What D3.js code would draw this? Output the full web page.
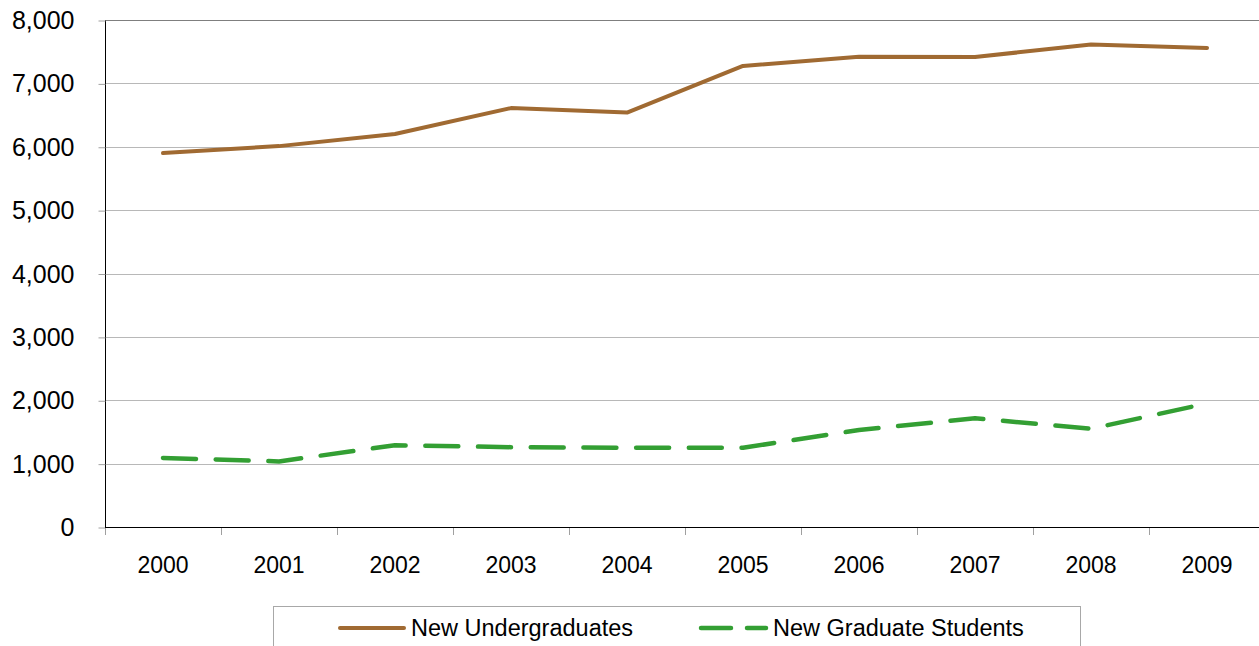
<!DOCTYPE html>
<html lang="en">
<head>
<meta charset="utf-8">
<title>New students 2000-2009</title>
<script src="https://cdn.jsdelivr.net/npm/d3@7"></script>
<style>
  body { margin: 0; background: #fff; font-family: "Liberation Sans", Arial, sans-serif; }
  svg { display: block; }
</style>
</head>
<body>
<script>
// data
var years = ["2000", "2001", "2002", "2003", "2004", "2005", "2006", "2007", "2008", "2009"];
var undergrads = [5900, 6010, 6200, 6610, 6540, 7275, 7420, 7415, 7615, 7560];
var grads = [1090, 1035, 1290, 1260, 1250, 1250, 1530, 1715, 1550, 1950];
var yTicks = [0, 1000, 2000, 3000, 4000, 5000, 6000, 7000, 8000];
var seriesNames = ["New Undergraduates", "New Graduate Students"];

var w = 1259, h = 646;
// plot edges (window.top is taken, so prefixed names)
var plotLeft = 105, plotRight = 1265, plotTop = 20, plotBottom = 527;

var svg = d3.select("body").append("svg")
  .attr("width", w)
  .attr("height", h);

var xScale = d3.scaleBand().domain(years).range([plotLeft, plotRight]);
var yScale = d3.scaleLinear().domain([0, 8000]).range([plotBottom, plotTop]);

// gridlines
svg.append("g").selectAll("line")
  .data(yTicks.filter(function(d) { return d > 0; }))
  .enter().append("line")
  .attr("x1", plotLeft).attr("x2", plotRight)
  .attr("y1", function(d) { return Math.round(yScale(d)) + 0.5; })
  .attr("y2", function(d) { return Math.round(yScale(d)) + 0.5; })
  .attr("stroke", function(d) { return d == 8000 ? "#7f7f7f" : "#b8b8b8"; })
  .attr("stroke-width", 1);

// y axis
var yAxis = d3.axisLeft(yScale)
  .tickValues(yTicks)
  .tickSize(7)
  .tickPadding(24)
  .tickFormat(d3.format(","));

var gy = svg.append("g")
  .attr("transform", "translate(" + (plotLeft + 0.5) + ",0.5)")
  .call(yAxis);
gy.select(".domain").attr("stroke", "#000").attr("d", "M0," + plotTop + "V" + plotBottom);
gy.selectAll(".tick line").attr("stroke", "#a0a0a0");
gy.selectAll("text")
  .attr("font-size", "25px")
  .attr("font-family", "Liberation Sans, Arial, sans-serif")
  .attr("fill", "#000");

// x axis
var xAxis = d3.axisBottom(xScale).tickSize(0).tickPadding(0);
var gx = svg.append("g")
  .attr("transform", "translate(0," + (plotBottom + 0.5) + ")")
  .call(xAxis);
gx.select(".domain").attr("stroke", "#000").attr("d", "M" + plotLeft + ",0H" + plotRight);
gx.selectAll("text")
  .attr("font-size", "23px")
  .attr("font-family", "Liberation Sans, Arial, sans-serif")
  .attr("fill", "#000")
  .attr("dy", null)
  .attr("y", 45);

// category separator ticks
svg.append("g").selectAll("line")
  .data(years)
  .enter().append("line")
  .attr("x1", function(d) { return Math.round(xScale(d)) + 0.5; })
  .attr("x2", function(d) { return Math.round(xScale(d)) + 0.5; })
  .attr("y1", plotBottom + 1)
  .attr("y2", plotBottom + 8)
  .attr("stroke", "#a0a0a0");

var line = d3.line()
  .x(function(d, i) { return xScale(years[i]) + xScale.bandwidth() / 2; })
  .y(function(d) { return yScale(d); });

svg.append("path")
  .datum(undergrads)
  .attr("d", line)
  .attr("fill", "none")
  .attr("stroke", "#a06a32")
  .attr("stroke-width", 4)
  .attr("stroke-linejoin", "round")
  .attr("stroke-linecap", "round");

svg.append("path")
  .datum(grads)
  .attr("d", line)
  .attr("fill", "none")
  .attr("stroke", "#339f33")
  .attr("stroke-width", 4.5)
  .attr("stroke-dasharray", "33,19.7")
  .attr("stroke-linejoin", "round")
  .attr("stroke-linecap", "round");

// legend
var legend = svg.append("g");
legend.append("rect")
  .attr("x", 273.5).attr("y", 606.5)
  .attr("width", 807).attr("height", 50)
  .attr("fill", "#fff")
  .attr("stroke", "#a8a8a8");

legend.append("line")
  .attr("x1", 340).attr("x2", 404).attr("y1", 628).attr("y2", 628)
  .attr("stroke", "#a06a32").attr("stroke-width", 4)
  .attr("stroke-linecap", "round");
legend.append("line")
  .attr("x1", 701).attr("x2", 766).attr("y1", 628).attr("y2", 628)
  .attr("stroke", "#339f33").attr("stroke-width", 4.5)
  .attr("stroke-dasharray", "30,16")
  .attr("stroke-linecap", "round");

legend.selectAll("text")
  .data(seriesNames)
  .enter().append("text")
  .attr("x", function(d, i) { return i == 0 ? 411 : 773; })
  .attr("y", 636)
  .attr("font-size", "23.5px")
  .attr("font-family", "Liberation Sans, Arial, sans-serif")
  .attr("fill", "#000")
  .text(function(d) { return d; });
</script>
</body>
</html>
